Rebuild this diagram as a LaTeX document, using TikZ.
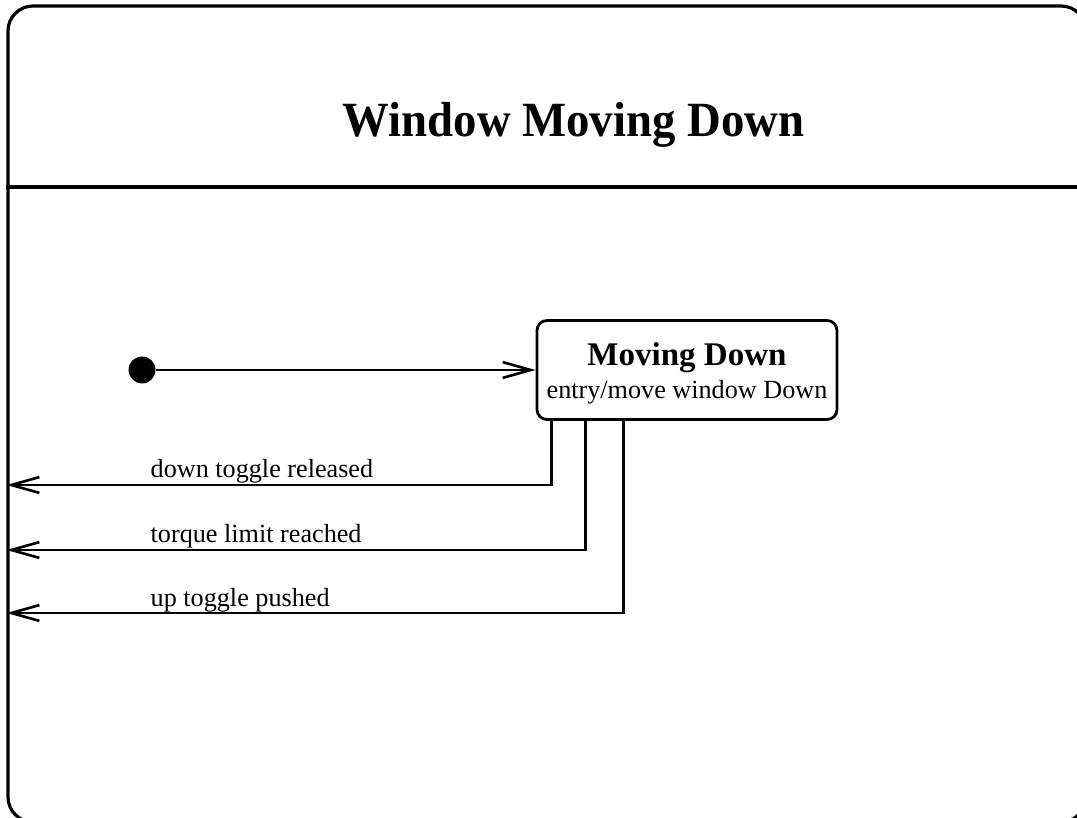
\documentclass[tikz,border=0pt]{standalone}
\usepackage{fontspec}
\setmainfont{Liberation Serif}
\newfontfamily\wmdtitlefont[FakeStretch=0.95]{Liberation Serif}
\usetikzlibrary{arrows.meta,positioning,calc}

\begin{document}
\begin{tikzpicture}[
  wmdframe/.style={draw,line width=0.9pt,rounded corners=0.25cm,minimum width=10.78cm,
    minimum height=8.16cm,inner sep=0pt},
  wmdstate/.style={draw,line width=0.8pt,rounded corners=0.1cm,minimum width=3.0cm,
    minimum height=0.99cm,align=center,inner sep=0pt,font=\fontsize{7.45}{9.3}\selectfont},
  wmdarr/.style={-{Straight Barb[length=8pt,width=4.5pt]},line width=0.75pt},
  wmdlabel/.style={anchor=base west,inner sep=0pt,font=\fontsize{7.45}{8.8}\selectfont}
]
  \useasboundingbox (0,0) rectangle (10.77,8.17);
  % Outer frame and title compartment
  \node[wmdframe] (frame) at (5.47,4.03) {};
  \draw[line width=0.9pt] (frame.west |- 0,6.30) -- (frame.east |- 0,6.30);
  \node[font=\wmdtitlefont\bfseries\fontsize{14}{16}\selectfont,anchor=base] (title) at (5.735,6.80) {Window Moving Down};
  % Initial pseudostate and state
  \node[circle,fill,inner sep=0pt,minimum size=0.27cm] (init) at (1.42,4.47) {};
  \node[wmdstate] (down) at (6.87,4.47) {\rule{0pt}{8.4pt}{\fontsize{9.4}{9.3}\selectfont\bfseries Moving Down}\\entry/move window Down};
  \draw[wmdarr] (init) -- (down);
  % Transitions leaving the composite state
  \draw[wmdarr] ([xshift=0.16cm]down.south west) |- (frame.west |- 0,3.32);
  \draw[wmdarr] ([xshift=0.50cm]down.south west) |- (frame.west |- 0,2.67);
  \draw[wmdarr] ([xshift=0.88cm]down.south west) |- (frame.west |- 0,2.04);
  \node[wmdlabel] (released) at (1.50,3.39) {down toggle released};
  \node[wmdlabel] (torque) at (1.50,2.74) {torque limit reached};
  \node[wmdlabel] (pushed) at (1.50,2.10) {up toggle pushed};
\end{tikzpicture}
\end{document}
